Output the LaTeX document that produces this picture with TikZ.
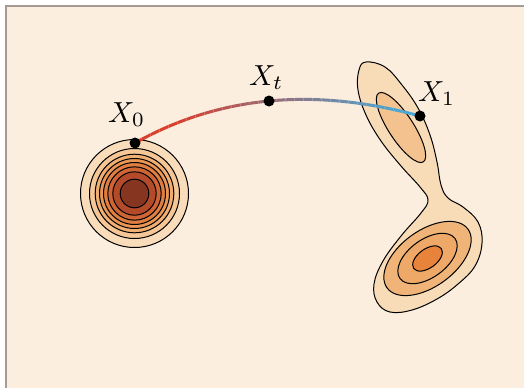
\documentclass[tikz,border=0pt]{standalone}
\usetikzlibrary{calc}
\definecolor{bgpeach}{HTML}{FBEEDF}
\definecolor{edgegray}{HTML}{A49C94}
\definecolor{crvred}{HTML}{D83F2D}
\definecolor{crvblue}{HTML}{4AA6D4}
\definecolor{lA}{HTML}{F9DDBA}
\definecolor{lB}{HTML}{F5C796}
\definecolor{lC}{HTML}{F0AE72}
\definecolor{lD}{HTML}{EA9654}
\definecolor{lE}{HTML}{E07D40}
\definecolor{lF}{HTML}{CF6535}
\definecolor{lG}{HTML}{B34B2B}
\definecolor{lH}{HTML}{853520}
\definecolor{rA}{HTML}{F8DCB8}
\definecolor{rB}{HTML}{F3C28E}
\definecolor{rC}{HTML}{EEA867}
\definecolor{rD}{HTML}{E8833C}
\tikzset{
  contour/.style={draw=black, line width=1pt},
  dotpt/.style={circle, fill=black, inner sep=0pt, minimum size=11pt},
  lbl/.style={inner sep=0pt, anchor=base west},
  curvestroke/.style={line width=3pt}
}
\newcommand{\biglbl}[1]{\scalebox{2.9}{$#1$}}
\begin{document}
\begin{tikzpicture}[x=1pt,y=-1pt]
\useasboundingbox (0,0) rectangle (524,388);
\fill[white] (0,0) rectangle (524,388);
\fill[bgpeach] (6,6) rectangle (524,388);
\draw[edgegray, line width=1.2pt] (6,388) -- (6,6) -- (524,6);
% left distribution
\coordinate (cL) at (134.5,193.5);
\foreach \r/\c in {54/lA,45/lB,39.3/lC,35/lD,31/lE,26.7/lF,21.7/lG,14.3/lH}{
  \filldraw[fill=\c, contour] (cL) circle [radius=\r];
}
% right distribution outer contour
\filldraw[fill=rA, contour] plot[smooth cycle, tension=0.65] coordinates {
 (366,62) (385,67) (402,85) (418,108) (430,135) (437,162) (441,185) (448,198)
 (463,207) (478,222) (482,243) (475,266) (458,284) (437,299) (412,310) (390,312)
 (377,302) (374,284) (383,261) (401,236) (421,213) (428,200) (420,187) (401,166)
 (381,141) (366,115) (358,90) (359,70)};
\coordinate (cU) at (401,127.5);
\filldraw[fill=rB, contour, rotate around={-57:(cU)}] (cU) ellipse [x radius=41pt, y radius=12.5pt];
\coordinate (cD) at (427.5,258.5);
\filldraw[fill=rC!55!rB, contour, rotate around={36:(cD)}] (cD) ellipse [x radius=50pt, y radius=28pt];
\filldraw[fill=rC, contour, rotate around={36:(cD)}] (cD) ellipse [x radius=34pt, y radius=19pt];
\filldraw[fill=rD, contour, rotate around={36:(cD)}] (cD) ellipse [x radius=17pt, y radius=9.5pt];
% path points
\coordinate (X0) at (135,143);
\coordinate (Xt) at (269,101);
\coordinate (X1) at (420,116);
\coordinate (ctlA) at (218.7,96);
\coordinate (ctlB) at (313.7,87);
\foreach \i in {0,...,71}{
  \pgfmathsetmacro\xa{128+\i*4.5}
  \pgfmathsetmacro\xb{\xa+4.6}
  \pgfmathsetmacro\p{max(0,min(100,(\xa+2.25-175)/2.2))}
  \begin{scope}
    \clip (\xa,0) rectangle (\xb,388);
    \draw[curvestroke, color=crvblue!\p!crvred] (X0) .. controls (ctlA) and (ctlB) .. (X1);
  \end{scope}
}
\node[dotpt] (d0) at (X0) {};
\node[dotpt] (dt) at (Xt) {};
\node[dotpt] (d1) at (X1) {};
\node[lbl] (l0) at (108,122) {\biglbl{X_0}};
\node[lbl] (lt) at (249,85) {\biglbl{X_t}};
\node[lbl] (l1) at (418,101) {\biglbl{X_1}};
\end{tikzpicture}
\end{document}
